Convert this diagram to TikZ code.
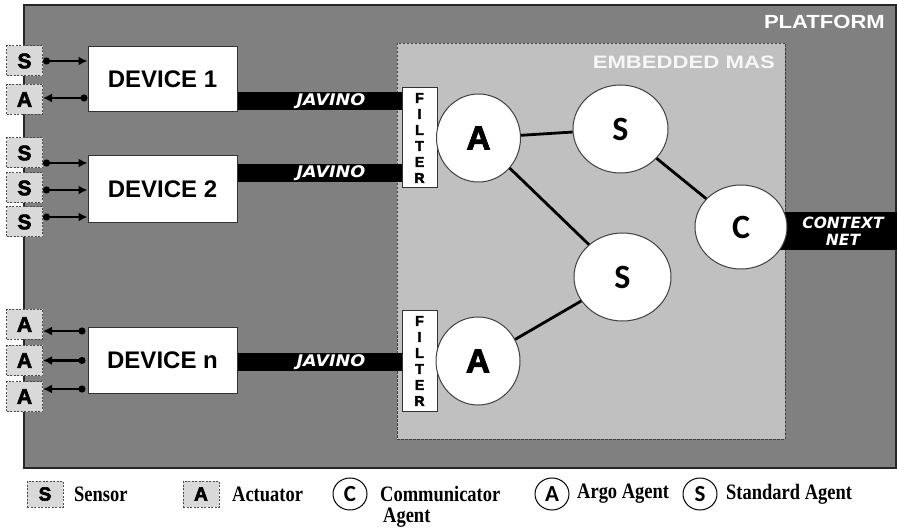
\documentclass[tikz,border=0pt]{standalone}
\usepackage{fontspec}
\setmainfont{Liberation Sans}
\newfontfamily\dvfont{DejaVu Sans}
\newfontfamily\calfont{Carlito}
\newfontfamily\blackfont[BoldFeatures={FakeBold=3}]{Liberation Sans}
\newfontfamily\legfont[FakeStretch=0.84]{Liberation Serif}
\usepackage{graphicx}
\usetikzlibrary{shapes.geometric,arrows.meta}
\definecolor{platgray}{HTML}{808080}
\definecolor{masgray}{HTML}{C0C0C0}
\definecolor{sensgray}{HTML}{D9D9D9}
\pgfdeclarelayer{back}
\pgfdeclarelayer{bars}
\pgfsetlayers{back,bars,main}
\tikzset{
  platform/.style={draw=black!85, fill=platgray, line width=1.2pt},
  masarea/.style={draw=black!75, fill=masgray, line width=0.9pt, dashed, dash pattern=on 2.5pt off 1.5pt},
  device/.style={rectangle, draw=black!80, fill=white, text=black, line width=1pt, minimum width=149pt, minimum height=65pt, inner sep=0pt, font=\bfseries\fontsize{24}{28}\selectfont},
  sensbox/.style={rectangle, draw=black!70, fill=sensgray, text=black, line width=1pt, dashed, dash pattern=on 2pt off 1.5pt, minimum width=36pt, minimum height=30pt, inner sep=0pt, font=\blackfont\bfseries\fontsize{21}{22}\selectfont},
  sig/.style={line width=2.2pt, black},
  toDev/.style={sig, {Circle[length=7pt]}-{Latex[length=9pt,width=9pt]}},
  fromDev/.style={sig, {Latex[length=9pt,width=9pt]}-{Circle[length=7pt]}},
  filt/.style={rectangle, draw=black!80, fill=white, text=black, line width=1pt, minimum width=35pt, minimum height=100pt, inner sep=0pt, align=center, font=\blackfont\bfseries\fontsize{14}{16}\selectfont},
  agent/.style={ellipse, draw=black!75, fill=white, text=black, line width=1pt, inner sep=0pt},
  afont/.style={font=\blackfont\bfseries\fontsize{33}{34}\selectfont},
  sfont/.style={font=\calfont\bfseries\fontsize{34}{36}\selectfont},
  link/.style={line width=2.8pt, black},
  bar/.style={line width=18pt, black},
  jav/.style={text=white, font=\dvfont\bfseries\itshape\fontsize{16}{18}\selectfont},
  legbox/.style={sensbox, minimum height=26pt, font=\blackfont\bfseries\fontsize{19}{20}\selectfont},
  legcirc/.style={ellipse, draw=black, fill=white, text=black, line width=1pt, minimum width=34pt, minimum height=32pt, inner sep=0pt, font=\calfont\bfseries\fontsize{23}{24}\selectfont},
  legtext/.style={anchor=west, inner sep=0pt, text=black, font=\legfont\bfseries\fontsize{22}{22}\selectfont}
}
\begin{document}
\begin{tikzpicture}[x=1pt,y=-1pt]
\useasboundingbox (0,0) rectangle (897,529);
\begin{pgfonlayer}{back}
\draw[platform] (24,5) rectangle (896,468);
\draw[masarea] (397,43) rectangle (785,439);
\end{pgfonlayer}
% titles
\node[anchor=east, inner sep=0pt, text=white, font=\bfseries\fontsize{19}{20}\selectfont] (plattitle) at (885,22) {\scalebox{1.16}[1]{PLATFORM}};
\node[anchor=east, inner sep=0pt, text=white!97!black, font=\bfseries\fontsize{18}{20}\selectfont] (mastitle) at (775,62) {\scalebox{1.23}[1]{EMBEDDED MAS}};
% devices
\node[device] (dev1) at (162.5,79.5) {DEVICE 1};
\node[device, minimum height=67pt] (dev2) at (162.5,189.5) {DEVICE 2};
\node[device] (devn) at (162.5,360.5) {DEVICE n};
% sensors / actuators
\node[sensbox] (s1) at (24.5,61) {S};
\node[sensbox] (a1) at (24.5,99.5) {A};
\node[sensbox] (s2a) at (24.5,153) {S};
\node[sensbox] (s2b) at (24.5,188) {S};
\node[sensbox] (s2c) at (24.5,222) {S};
\node[sensbox] (an1) at (24.5,324.5) {A};
\node[sensbox] (an2) at (24.5,360.5) {A};
\node[sensbox] (an3) at (24.5,396.5) {A};
\coordinate (p1) at (s1.east);
\coordinate (q1) at ([yshift=1.5pt]a1.east);
\coordinate (p2a) at ([yshift=-10pt]s2a.east);
\coordinate (p2b) at ([yshift=-2pt]s2b.east);
\coordinate (p2c) at ([yshift=5pt]s2c.east);
\coordinate (qn1) at ([yshift=-6.5pt]an1.east);
\coordinate (qn2) at (an2.east);
\coordinate (qn3) at ([yshift=7.5pt]an3.east);
\draw[toDev] (p1) -- (p1 -| dev1.west);
\draw[fromDev] (q1) -- (q1 -| dev1.west);
\draw[toDev] (p2a) -- (p2a -| dev2.west);
\draw[toDev] (p2b) -- (p2b -| dev2.west);
\draw[toDev] (p2c) -- (p2c -| dev2.west);
\draw[fromDev] (qn1) -- ([xshift=-2pt]qn1 -| devn.west);
\draw[fromDev] (qn2) -- ([xshift=-2pt]qn2 -| devn.west);
\draw[fromDev] (qn3) -- ([xshift=-2pt]qn3 -| devn.west);
% filters
\node[filt] (f1) at (419.5,138) {F\\I\\L\\T\\E\\R};
\node[filt] (f2) at (419.5,361) {F\\I\\L\\T\\E\\R};
% agents
\node[agent, afont, minimum width=84pt, minimum height=88pt] (A1) at (478.5,138) {A};
\node[agent, sfont, minimum width=95pt, minimum height=88pt] (S1) at (620.5,129) {S};
\node[agent, sfont, minimum width=92pt, minimum height=84pt] (C) at (741,227) {C};
\node[agent, sfont, minimum width=97pt, minimum height=88pt] (S2) at (622.5,277) {S};
\node[agent, afont, minimum width=84pt, minimum height=88pt] (A2) at (478,361) {A};
\draw[link] (A1) -- (S1);
\draw[link] (A1) -- (S2);
\draw[link] (S1) -- (C);
\draw[link] (A2) -- (S2);
% bars
\coordinate (j1) at (0,101);
\coordinate (j2) at (0,173);
\coordinate (jn) at (0,362);
\coordinate (netend) at (897,231);
\begin{pgfonlayer}{bars}
\draw[bar] (dev1.east |- j1) -- (f1.west |- j1) node[jav, pos=0.57] {\scalebox{1.1}[1]{JAVINO}};
\draw[bar] (dev2.east |- j2) -- (f1.west |- j2) node[jav, pos=0.57] {\scalebox{1.1}[1]{JAVINO}};
\draw[bar] (devn.east |- jn) -- (f2.west |- jn) node[jav, pos=0.57] {\scalebox{1.1}[1]{JAVINO}};
\draw[line width=38pt, black] (C.center |- netend) -- (netend);
\end{pgfonlayer}
\node[align=center, text=white, inner sep=0pt, font=\dvfont\bfseries\itshape\fontsize{15.5}{17}\selectfont] (nettext) at (843,231) {CONTEXT\\NET};
% legend
\node[legbox] (lS) at (45,494) {S};
\node[legtext] (lSt) at (74,494) {Sensor};
\node[legbox] (lA) at (201,494) {A};
\node[legtext] (lAt) at (232,494) {Actuator};
\node[legcirc] (lC) at (350,494) {C};
\node[legtext] (lCt) at (380,494) {Communicator};
\node[legtext] (lCt2) at (383,518) {Agent};
\node[legcirc] (lAr) at (552,494) {A};
\node[legtext] (lArt) at (577,494) {Argo Agent};
\node[legcirc] (lSd) at (700,494) {S};
\node[legtext] (lSdt) at (726,494) {Standard Agent};
\end{tikzpicture}
\end{document}
